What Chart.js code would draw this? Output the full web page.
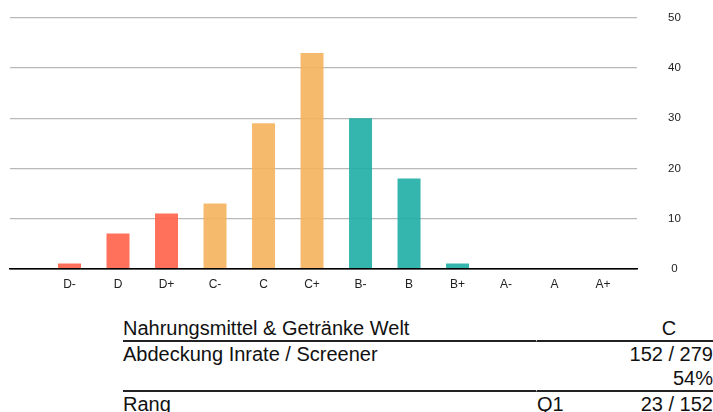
<!DOCTYPE html>
<html>
<head>
<meta charset="utf-8">
<script src="https://cdn.jsdelivr.net/npm/chart.js@4.4.1/dist/chart.umd.min.js"></script>
<style>
    html, body { margin: 0; padding: 0; background: #fff; }
    body { width: 713px; height: 412px; overflow: hidden; position: relative; font-family: "Liberation Sans", Arial, sans-serif; }
    #chartBox { position: absolute; left: 0; top: 0; width: 713px; height: 300px; }
    table.info { position: absolute; left: 123px; top: 316px; width: 590px; border-collapse: separate; border-spacing: 0; font-size: 20px; color: #111; }
    table.info td { padding: 0; height: 24px; line-height: 24px; white-space: nowrap; }
    table.info tr.sep td { border-bottom: 2px solid #222; }
    table.info td.c1 { width: 413px; }
    table.info td.c2 { width: 88px; border-left: 1px solid #fff; }
    table.info td.c3 { text-align: right; }
    table.info td.mid { text-align: center; }
</style>
</head>
<body>
<div id="chartBox"><canvas id="gradeChart" width="713" height="300"></canvas></div>

<table class="info">
    <tr class="sep"><td class="c1">Nahrungsmittel &amp; Getränke Welt</td><td class="c2"></td><td class="c3 mid">C</td></tr>
    <tr><td class="c1">Abdeckung Inrate / Screener</td><td class="c2"></td><td class="c3">152 / 279</td></tr>
    <tr class="sep"><td class="c1"></td><td class="c2"></td><td class="c3">54%</td></tr>
    <tr><td class="c1">Rang</td><td class="c2">Q1</td><td class="c3">23 / 152</td></tr>
</table>

<script>
const grades = ['D-', 'D', 'D+', 'C-', 'C', 'C+', 'B-', 'B', 'B+', 'A-', 'A', 'A+'];
const counts = [1, 7, 11, 13, 29, 43, 30, 18, 1, 0, 0, 0];
const yTicks = [0, 10, 20, 30, 40, 50];

// colour by letter of the grade
const letterColors = {
    D: 'rgba(255, 98, 72, 0.9)',
    C: 'rgba(245, 178, 92, 0.9)',
    B: 'rgba(30, 174, 166, 0.9)',
    A: 'rgba(30, 174, 166, 0.9)'
};

const ctx = document.getElementById('gradeChart').getContext('2d');

new Chart(ctx, {
    type: 'bar',
    data: {
        datasets: [{
            data: counts.map((v, i) => ({ x: i, y: v })),
            backgroundColor: grades.map(g => letterColors[g[0]]),
            borderWidth: 0,
            barPercentage: 0.474,
            categoryPercentage: 1
        }]
    },
    options: {
        responsive: false,
        animation: false,
        layout: {
            padding: { left: 10, top: 18, right: 0, bottom: 7 }
        },
        plugins: {
            legend: { display: false },
            tooltip: { enabled: false }
        },
        scales: {
            x: {
                type: 'linear',
                min: -1.227,
                max: 11.70,
                bounds: 'data',
                offset: false,
                afterBuildTicks: (scale) => {
                    scale.ticks = grades.map((g, i) => ({ value: i }));
                },
                grid: { display: false },
                border: { display: true, color: '#000', width: 1.5 },
                ticks: {
                    autoSkip: false,
                    maxRotation: 0,
                    padding: 1,
                    color: '#222',
                    font: { family: 'Liberation Sans', size: 12 },
                    callback: (value) => grades[Math.round(value)] ?? ''
                }
            },
            y: {
                position: 'right',
                min: yTicks[0],
                max: yTicks[yTicks.length - 1],
                afterBuildTicks: (scale) => {
                    scale.ticks = yTicks.map(v => ({ value: v }));
                },
                afterFit: (scale) => {
                    scale.width = 76;
                },
                border: { display: false },
                grid: {
                    drawTicks: true,
                    tickLength: 31,
                    tickColor: 'rgba(0, 0, 0, 0)',
                    lineWidth: 1.3,
                    color: (c) => c.tick && c.tick.value === 0 ? '#000' : '#b9b9b9'
                },
                ticks: {
                    crossAlign: 'center',
                    padding: 0,
                    color: '#222',
                    font: { family: 'Liberation Sans', size: 11.5 }
                }
            }
        }
    }
});
</script>
</body>
</html>
